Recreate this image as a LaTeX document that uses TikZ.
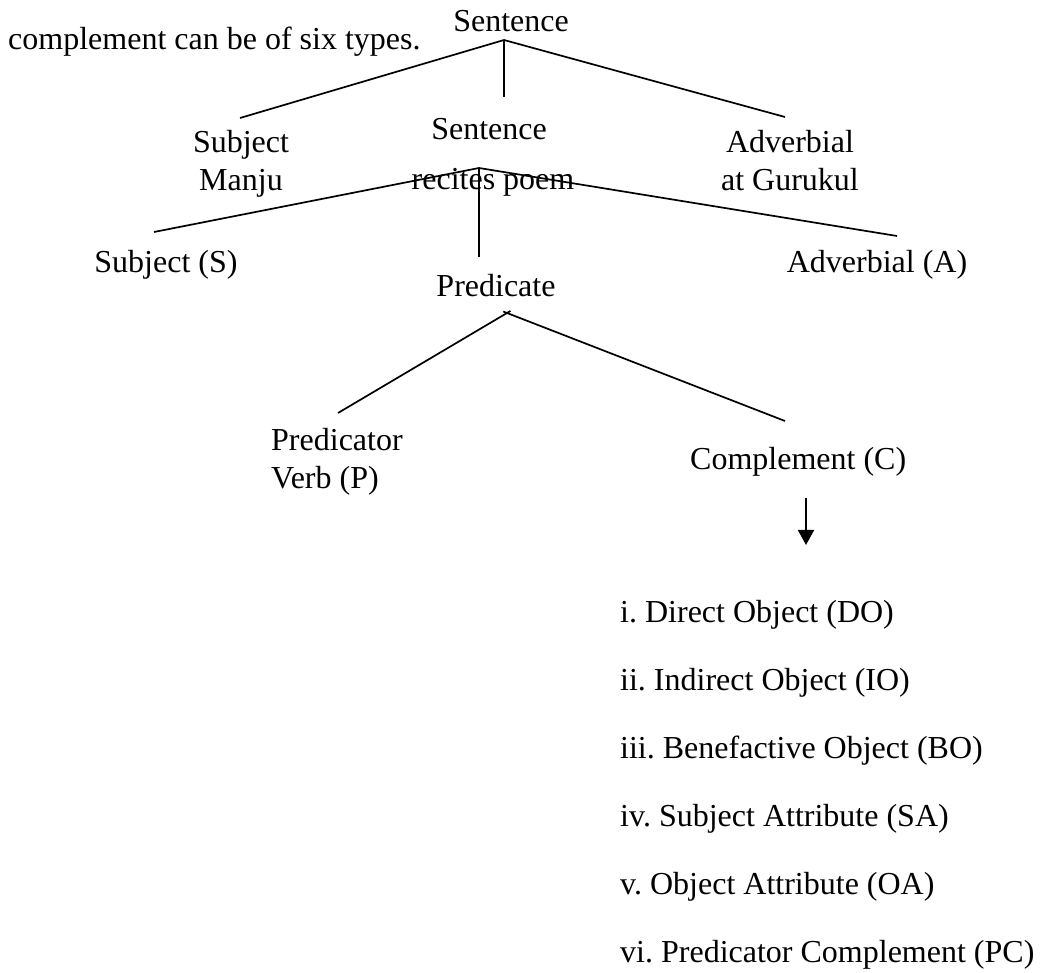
\documentclass[tikz,border=0pt]{standalone}
\usepackage{fontspec}
\setmainfont{Liberation Serif}
\usepackage{tikz}
\usetikzlibrary{positioning,arrows.meta}
\frenchspacing

\begin{document}
\begin{tikzpicture}[x=1pt,y=-1pt,
    word/.style={inner sep=0pt,font=\fontsize{32}{38}\selectfont,anchor=base},
    pair/.style={word,align=center,anchor=north},
    item/.style={word,anchor=base west},
    branch/.style={line width=1.7pt}]
    \useasboundingbox (0,0) rectangle (1053,973);
    \node[word] (s_0) at (511,32) {Sentence};
    \node[item] (intro) at (8,50) {complement can be of six types.};
    \node[pair] (subj) at (241,130) {Subject\\Manju};
    \node[word] (s_1) at (489,140) {Sentence};
    \node[word] (rp) [below right=50pt and 4pt of s_1.base,anchor=base] {recites poem};
    \node[pair] (adv) at (790,130) {Adverbial\\at Gurukul};
    \node[word] (subj_s) at (166,273) {Subject (S)};
    \node[word] (adv_a) at (877,273) {Adverbial (A)};
    \node[word] (pred) at (496,297) {Predicate};
    \node[pair,align=left,anchor=north west] (verb) at (271,428) {Predicator\\Verb (P)};
    \node[item] (comp) at (690,470) {Complement (C)};
    \node[item] (l_1) at (620,622) {i. Direct Object (DO)};
    \node[item] (l_2) at (620,690) {ii. Indirect Object (IO)};
    \node[item] (l_3) at (620,758) {iii. Benefactive Object (BO)};
    \node[item] (l_4) at (620,826) {iv. Subject Attribute (SA)};
    \node[item] (l_5) at (620,894) {v. Object Attribute (OA)};
    \node[item] (l_6) at (620,962) {vi. Predicator Complement (PC)};
    % branch points and free line ends
    \coordinate (a_0) at (504,40);
    \coordinate (e_01) at (240,118);
    \coordinate (e_02) at (504,97);
    \coordinate (e_03) at (785,117);
    \coordinate (a_1) at (479,168);
    \coordinate (e_11) at (154,232);
    \coordinate (e_12) at (479,257);
    \coordinate (e_13) at (897,236);
    \coordinate (a_2) at (507,313);
    \coordinate (e_21) at (338,413);
    \coordinate (e_22) at (785,421);
    \coordinate (c_0) at (806,498);
    \coordinate (c_1) at (806,545);
    \path[branch]
          (a_0) edge (e_01)
                edge (e_02)
                edge (e_03)
          (a_1) edge (e_11)
                edge (e_12)
                edge (e_13)
          (a_2) edge [shorten <=-4pt] (e_21)
                edge [shorten <=-4pt] (e_22);
    \draw[branch,-{Triangle[width=16pt,length=15pt]}] (c_0) -- (c_1);
\end{tikzpicture}
\end{document}
